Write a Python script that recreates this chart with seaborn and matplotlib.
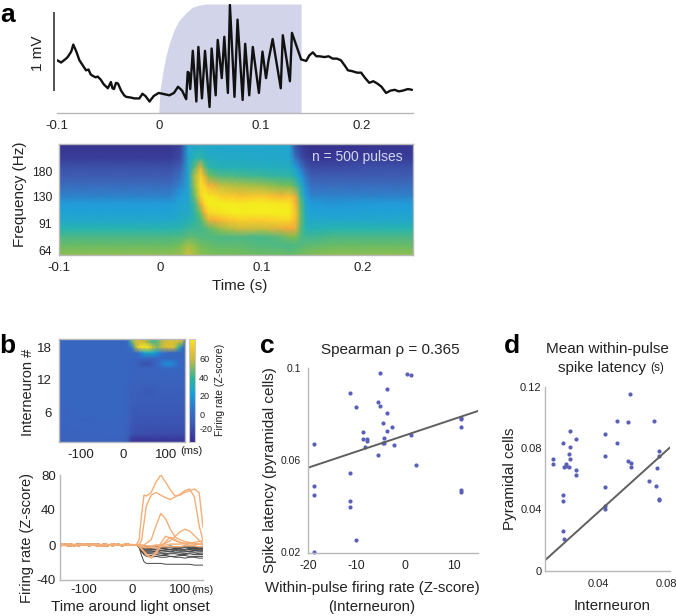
import numpy as np
import pandas as pd
import matplotlib
matplotlib.use('Agg')
import matplotlib.pyplot as plt
from matplotlib.colors import LinearSegmentedColormap
from matplotlib.transforms import ScaledTranslation
import seaborn as sns

# panel a, trace (ms, mV)
trace_t = [-100, -96, -92, -89.5, -86, -84, -81, -78, -75, -73, -71.5, -69, -67, -65, -62, -60, -57, -54, -50, -47, -45.5,
           -44, -42, -40, -37, -34, -32, -27, -24, -19, -16, -13, -9, -5, 0, 10.5, 15, 19, 23, 27, 28.5, 29.5, 31,
           33.5, 37, 39, 42.5, 45.5, 50, 52, 56, 58, 62, 64.5, 68, 70, 74.5, 77.5, 82.5, 85, 89, 92.5, 98.5, 102, 105.5,
           108, 112, 120, 122, 129, 131, 140, 145, 148, 151.5, 155, 158, 163, 167, 171, 175, 179, 183, 186, 190, 195, 199,
           203, 207, 211, 215, 219, 223.5, 228, 232, 236, 240, 245, 249]
trace_mv = [.51, .48, .52, .55, .62, .71, .62, .51, .45, .41, .38, .39, .33, .31, .29, .30, .26, .20, .15, .23, .15,
            .14, .22, .21, .12, .06, .04, .03, .02, .02, .08, .05, -.02, .05, .09, .06, .09, .17, .12, .01, .36, .35, .14,
            .63, -.02, .68, .02, .63, -.09, .66, .06, .77, .28, .81, .09, 1.22, .04, 1.03, 0, .72, .06, .68, .09, .62, .28,
            .51, .78, .15, .83, .24, .86, .52, .50, .57, .61, .56, .56, .55, .56, .53, .53, .51, .44, .38, .37, .35, .35,
            .28, .22, .24, .21, .17, .09, .12, .13, .11, .12, .14, .13]
light_t = [0, 1.3, 4, 7, 10.5, 15, 20, 27, 33, 40, 46.5, 140, 140]
light_level = [0, .21, .37, .52, .64, .76, .85, .92, .97, .99, 1, 1, 0]

# panel a, spectrogram
spec_t = [-100, -60, -20, 10, 20, 28, 34, 40, 44, 48, 54, 60, 70, 80, 100, 120, 128, 134, 139, 144, 150, 170, 210, 250]
spec_f = [60, 68, 76, 85, 95, 105, 118, 130, 150, 170, 190, 215, 258]
base = [.58, .52, .47, .40, .33, .30, .27, .22, .17, .13, .10, .04, .01]
spec_z = [base, base, base, base,
          [.60, .55, .48, .41, .36, .33, .31, .28, .22, .18, .14, .08, .05],
          [.66, .62, .50, .44, .38, .33, .33, .32, .32, .32, .32, .32, .31],
          [.62, .58, .50, .45, .42, .42, .45, .52, .60, .62, .50, .40, .32],
          [.58, .54, .48, .46, .48, .55, .72, .90, .95, .90, .72, .42, .32],
          [.57, .53, .48, .47, .58, .78, .93, 1.0, .90, .72, .50, .38, .32],
          [.56, .52, .48, .50, .72, .93, 1.0, .98, .80, .55, .42, .36, .32],
          [.55, .51, .47, .55, .78, .95, 1.0, .95, .72, .50, .40, .35, .32],
          [.55, .50, .47, .60, .82, .97, 1.0, .90, .65, .48, .38, .34, .32],
          [.55, .50, .47, .64, .87, 1.0, 1.0, .88, .63, .47, .38, .34, .32],
          [.54, .50, .47, .68, .90, 1.0, .98, .85, .62, .46, .38, .34, .32],
          [.53, .48, .46, .66, .88, 1.0, 1.0, .88, .60, .44, .37, .33, .32],
          [.53, .47, .50, .72, .92, 1.0, .97, .82, .55, .42, .36, .33, .32],
          [.52, .46, .55, .75, .92, 1.0, .97, .85, .55, .42, .36, .32, .31],
          [.53, .47, .55, .72, .82, .85, .80, .72, .48, .36, .28, .18, .08],
          [.54, .48, .47, .50, .52, .52, .50, .45, .36, .28, .20, .10, .03],
          [.56, .50, .45, .40, .36, .34, .31, .28, .24, .18, .12, .05, .01],
          [.57, .50, .45, .38, .33, .30, .27, .22, .17, .13, .08, .02, .0],
          [.58, .52, .47, .40, .33, .29, .26, .22, .17, .13, .08, .03, .0],
          base, base]

# panel b, heat map (rows are interneuron 1..19)
heat_t = [-150, -100, -50, 0, 10, 20, 30, 40, 50, 60, 70, 80, 90, 100, 110, 120, 130, 140, 145]
heat_z = [
    [-5, -5, -5, -5, -8, -25, -26, -26, -26, -26, -26, -26, -26, -26, -26, -26, -26, -26, -26],
    [-5, -5, -4, -4, -6, -12, -15, -16, -16, -16, -16, -16, -16, -16, -16, -16, -16, -16, -16],
    [-5, -4, -4, -4, -6, -11, -13, -14, -14, -14, -14, -14, -14, -14, -14, -14, -14, -14, -14],
    [-4, -4, -4, -4, -5, -10, -12, -12, -12, -12, -12, -12, -12, -12, -12, -12, -12, -12, -12],
    [-4, -4, -3, -3, -5, -9, -11, -11, -11, -11, -11, -11, -11, -11, -11, -11, -11, -11, -11],
    [-4, -3, -3, -3, -4, -8, -10, -10, -10, -10, -10, -10, -10, -10, -10, -10, -10, -10, -10],
    [-4, -3, -3, -3, -4, -8, -9, -9, -9, -9, -9, -9, -9, -9, -9, -9, -9, -9, -9],
    [-3, -3, -3, -3, -4, -7, -8, -8, -8, -8, -8, -8, -8, -8, -8, -8, -8, -8, -8],
    [-3, -3, -3, -3, -4, -7, -8, -8, -8, -8, -8, -8, -8, -8, -8, -8, -8, -8, -8],
    [-3, -3, -3, -3, -4, -6, -7, -7, -9, -10, -9, -7, -7, -7, -7, -7, -7, -7, -7],
    [-3, -3, -3, -3, -4, -6, -6, -6, -6, -6, -6, -6, -6, -6, -6, -6, -6, -6, -6],
    [-3, -3, -3, -3, -3, -5, -5, -5, -5, -5, -5, -5, -5, -5, -5, -5, -5, -5, -5],
    [-3, -3, -3, -3, -3, -4, -5, -5, -5, -5, -5, -5, -5, -4, -4, -4, -4, -4, -4],
    [-3, -3, -3, -3, -3, -4, -4, -4, -4, -4, -4, -4, -3, -3, -3, -3, -3, -3, -3],
    [-3, -3, -3, -3, -4, -5, -5, -10, -14, -13, -8, -3, 8, 14, 15, 10, 0, -4, -4],
    [-3, -3, -3, -3, -3, -3, -3, -2, -2, -3, -3, -3, -3, -3, -3, -3, -3, -3, -3],
    [-3, -3, -3, -3, -3, -3, -3, 8, 22, 30, 25, 18, 5, 0, -3, -3, -3, -3, -3],
    [-3, -3, -3, -3, -2, 8, 55, 78, 80, 78, 60, 50, 58, 62, 65, 62, 40, 5, -3],
    [-3, -3, -3, -3, 0, 45, 62, 62, 60, 50, 42, 45, 55, 62, 64, 64, 62, 55, 5],
]
cbar_ticks = [-15, 0, 20, 40, 60]
cbar_labels = ['-20', '0', '20', '40', '60']

# panel b, firing rate traces
pre_t = [-150, -140, -130, -120, -110, -100, -90, -80, -70, -60, -50, -40, -30, -20, -10, 0, 5]
pre_a = [1, -.5, 1.5, 0, -1, 1, -.5, 1, .5, -1.5, 0, 1, -.5, .5, 0, .5, 0]
pre_b = [-1.5, 1, 0, -1, .5, 1.5, -1, 0, -1.5, 1, .5, -1, 1, 0, 1.5, -.5, 0]
pre_c = [2, 0, -1.5, .5, 1, -.5, 1.5, 0, 1, -.5, -1, 1.5, 0, -1, .5, 0, 0]
post_t = [10, 15, 20, 25, 30, 40, 50, 60, 70, 80, 90, 100, 110, 120, 130, 140, 148]
orange_cells = [
    [1, 6, 35, 57, 56, 60, 72, 80, 72, 63, 56, 57, 60, 62, 64, 60, 20],
    [0, 1, 5, 25, 45, 57, 60, 57, 54, 52, 55, 58, 62, 64, 55, 22, 5],
    [0, 0, 0, 0, 2, 6, 22, 36, 30, 18, 9, 6, 4, 3, 2, 1, 0],
    [0, -1, -2, -3, -3, -2, -1, 0, 2, 5, 10, 15, 18, 16, 11, 5, 2],
    [0, -2, -5, -8, -12, -14, -8, 2, 10, 8, 5, 3, 2, 2, 1, 1, 1],
    [0, -1, -4, -7, -10, -15, -10, -2, 4, 9, 6, 3, 1, 0, 0, 1, 1],
    [0, 0, -1, -1, -1, -1, 0, 0, 0, 1, 1, 1, 2, 2, 3, 4, 5],
    [0, 0, -1, -2, -3, -3, -3, -2, -2, -2, -2, -2, -1, -1, -1, -2, -2],
]
black_cells = [
    [0, -3, -12, -19, -21, -21, -21, -21, -22, -22, -22, -22, -22, -22, -23, -23, -23],
    [0, -3, -8, -11, -13, -14, -13, -14, -14, -13, -14, -14, -15, -14, -14, -15, -15],
    [0, -2, -7, -10, -12, -12, -13, -12, -12, -13, -13, -12, -12, -13, -13, -13, -13],
    [0, -2, -6, -9, -10, -10, -11, -10, -11, -10, -10, -11, -11, -10, -11, -11, -11],
    [0, -2, -5, -8, -9, -9, -9, -9, -10, -9, -9, -9, -10, -9, -9, -10, -10],
    [0, -2, -5, -7, -8, -8, -7, -8, -8, -7, -8, -8, -8, -7, -8, -8, -8],
    [0, -1, -4, -6, -7, -7, -7, -6, -7, -7, -6, -7, -7, -7, -6, -7, -7],
    [0, -1, -3, -5, -6, -6, -5, -6, -6, -5, -5, -6, -6, -5, -6, -6, -6],
    [0, -1, -3, -4, -5, -5, -5, -4, -5, -5, -4, -5, -5, -4, -5, -5, -5],
    [0, -1, -2, -3, -4, -4, -3, -4, -4, -3, -4, -4, -3, -4, -4, -4, -4],
    [0, -1, -2, -2, -3, -3, -2, -3, -3, -2, -3, -3, -2, -3, -3, -3, -3],
    [0, 0, -1, -1, -2, -2, -1, -2, -2, -1, -2, -2, -1, -2, -2, -2, -2],
]

# panel c
c_rate = [-5.1, .3, 1.3, -11.4, -3.7, -10.2, -5.6, -5.1, -3.7, -4.6, -2.7, -3.7, -8.6, -8.6, -7.8, -7.8, -4.4, -4.4, -4.6,
          -2.2, -8.3, -18.7, -5.6, 2.2, 1.3, 11.4, 11.4, 11.4, 11.4, 11.4, -11.4, -18.7, -18.7, -11.4, -11.4, -10.2, -18.7]
c_latency = [.0978, .0972, .0968, .089, .0909, .0832, .0854, .0833, .0805, .0759, .0745, .0724, .0722, .0693, .0693, .0683,
             .0696, .0675, .0674, .0665, .0655, .0671, .062, .058, .071, .0781, .0776, .0745, .0468, .046, .0545, .0488,
             .0449, .0421, .0394, .0251, .02]
c_fit_x = [-20, 15]
c_fit_y = [.0566, .0813]

# panel d
d_inter = [.011, .011, .0171, .021, .0245, .021, .0208, .0212, .0188, .0173, .0188, .0208, .0245, .0245, .0171, .0171, .0171,
           .0173, .0416, .0416, .0416, .0416, .0416, .0486, .0486, .0551, .0563, .0551, .0571, .0571, .0706, .0676, .0724,
           .0718, .0733, .0733, .0733, .0733]
d_pyr = [.0726, .0696, .0835, .0911, .0857, .0807, .0761, .0726, .0693, .0676, .0683, .0678, .0659, .0624, .0493, .0452,
         .0257, .0204, .0891, .075, .0548, .0424, .04, .0978, .0835, .097, .1152, .0715, .07, .0678, .0976, .0585, .0667,
         .0554, .0783, .0748, .047, .0463]
d_fit_x = [.0061, .08]
d_fit_y = [.0065, .0804]

W, H = 676, 616
sns.set_style('white')
plt.rcParams['font.family'] = ['Liberation Sans', 'DejaVu Sans']
plt.rcParams['text.color'] = '#222222'
plt.rcParams['axes.labelcolor'] = '#222222'
plt.rcParams['xtick.color'] = '#222222'
plt.rcParams['ytick.color'] = '#222222'

fig = plt.figure(figsize=(W / 100, H / 100), dpi=100)


def box(x0, y0, x1, y1):
    # axes from pixel corners of the picture
    return fig.add_axes([x0 / W, 1 - y1 / H, (x1 - x0) / W, (y1 - y0) / H])


def label(x, y, s, size=11, **kw):
    fig.text(x / W, 1 - y / H, s, fontsize=size, ha=kw.pop('ha', 'center'), va=kw.pop('va', 'center'), **kw)


def light_axes(ax, sides=('left', 'bottom')):
    for side, spine in ax.spines.items():
        spine.set_visible(side in sides)
        spine.set_color('#b8b8b8')
        spine.set_linewidth(1)


spec_cmap = LinearSegmentedColormap.from_list('spec', [
    (0, '#36308e'), (.15, '#3f63b8'), (.28, '#1f9fdc'), (.4, '#27b3b0'), (.55, '#79bd55'), (.66, '#c8bf3c'),
    (.76, '#f7a63a'), (.88, '#fbc92e'), (1, '#f4ee1e')])
heat_cmap = LinearSegmentedColormap.from_list('heat', [
    (0, '#3a3096'), (.22, '#3a62bd'), (.32, '#2f74cf'), (.48, '#10a5dc'), (.62, '#2cb59a'), (.8, '#c9b93e'),
    (.92, '#f3c92c'), (1, '#f6e81e')])

# a, trace
ax = box(57, 4, 413, 113)
ax.fill_between(light_t, [lv * 1.397 - .167 for lv in light_level], -.167, color='#d2d4ea', lw=0)
sns.lineplot(x=trace_t, y=trace_mv, color='#111111', lw=1.7, sort=False, ax=ax)
ax.set_xlim(-100, 250)
ax.set_ylim(-.167, 1.23)
ax.set_yticks([])
ax.set_xticks([-100, 0, 100, 200], ['-0.1', '0', '0.1', '0.2'], fontsize=9.5)
ax.tick_params(axis='x', direction='in', length=2, width=.8, color='#b8b8b8', pad=5)
light_axes(ax, ['bottom'])
bar = box(53, 12, 54.6, 91)
bar.set_facecolor('#555555')
bar.set_xticks([])
bar.set_yticks([])
sns.despine(ax=bar, left=True, bottom=True)
label(38, 53, '1 mV', 11, rotation=90)
label(8, 15, 'a', 19, fontweight='bold', color='black')

# a, spectrogram
ax = box(59, 144, 413, 255)
ax.pcolormesh(spec_t, spec_f, np.array(spec_z).T, cmap=spec_cmap, vmin=0, vmax=1, shading='gouraud')
ax.set_yscale('log', base=2)
ax.set_ylim(60, 258)
ax.set_xlim(-100, 250)
ax.set_yticks([64, 91, 130, 180], ['64', '91', '130', '180'], fontsize=8.7)
ax.minorticks_off()
ax.set_xticks([-100, 0, 100, 200], ['-0.1', '0', '0.1', '0.2'], fontsize=9.5)
ax.tick_params(length=0, pad=5)
light_axes(ax, ['left', 'right', 'top', 'bottom'])
ax.text(.715, .88, 'n = 500 pulses', transform=ax.transAxes, color='#d4d8ec', fontsize=10, va='center')
label(20, 194, 'Frequency (Hz)', 11, rotation=90)
label(240, 286, 'Time (s)', 11)

# b, heat map
ax = box(59, 339, 185, 442)
rows = [.5] + list(range(1, 20)) + [19.5]
heat_pad = [heat_z[0]] + heat_z + [heat_z[-1]]
mesh = ax.pcolormesh(heat_t, rows, heat_pad, cmap=heat_cmap, vmin=-30, vmax=81, shading='gouraud')
ax.set_xlim(-150, 145)
ax.set_ylim(.5, 19.5)
ax.set_xticks([-100, 0, 100], ['-100', '0', '100'], fontsize=9.5)
ax.set_yticks([6, 12, 18], ['6', '12', '18'], fontsize=9.5)
ax.tick_params(length=0, pad=5)
light_axes(ax, ['left', 'right', 'top', 'bottom'])
cax = box(189, 339, 195, 442)
cb = fig.colorbar(mesh, cax=cax)
cb.set_ticks(cbar_ticks, labels=cbar_labels, fontsize=6.5)
cb.ax.tick_params(length=0, pad=3)
cb.outline.set_edgecolor('#c8c8c8')
label(220, 390, 'Firing rate (Z-score)', 7.5, rotation=90)
label(28, 392, 'Interneuron #', 10.5, rotation=90)
label(191, 451, '(ms)', 8)
label(7, 346, 'b', 19, fontweight='bold', color='black')

# b, traces
rows_long = []
pre_lists = [pre_a, pre_b, pre_c]
for group, cells in (('black', black_cells), ('orange', orange_cells)):
    for i, vals in enumerate(cells):
        pre = pre_lists[i % 3]
        rows_long.append(pd.DataFrame({'t': pre_t + post_t, 'z': pre + vals, 'cell': i, 'group': group}))
traces = pd.concat(rows_long)
ax = box(60, 475, 203, 580)
sns.lineplot(data=traces[traces.group == 'black'], x='t', y='z', units='cell', estimator=None, color='#444444', lw=.7, ax=ax)
sns.lineplot(data=traces[traces.group == 'orange'], x='t', y='z', units='cell', estimator=None, color='#f4ae78', lw=1, ax=ax)
ax.set_xlim(-150, 148)
ax.set_ylim(-40, 80)
ax.set_xticks([-100, 0, 100], ['-100', '0', '100'], fontsize=9.5)
ax.set_yticks([-40, 0, 40, 80], ['-40', '0', '40', '80'], fontsize=9.5)
ax.set_xlabel('')
ax.set_ylabel('')
ax.tick_params(length=0, pad=3)
light_axes(ax)
label(202, 590, '(ms)', 8)
label(27, 538, 'Firing rate (Z-score)', 10.5, rotation=90)
label(130, 607, 'Time around light onset', 11)

# c
ax = box(308, 368, 478, 553)
sns.scatterplot(x=c_rate, y=c_latency, color='#5a5fb8', s=9, linewidth=0, ax=ax, clip_on=False)
sns.lineplot(x=c_fit_x, y=c_fit_y, color='#5f5f5f', lw=1.4, ax=ax)
ax.set_xlim(-20, 15)
ax.set_ylim(.0195, .1)
ax.set_xticks([-20, -10, 0, 10], ['-20', '-10', '0', '10'], fontsize=8.7)
ax.set_yticks([.02, .06, .1], ['0.02', '0.06', '0.1'], fontsize=7.5)
ax.tick_params(length=0, pad=5)
light_axes(ax)
label(390, 350, 'Spearman ρ = 0.365', 11)
label(270, 470, 'Spike latency (pyramidal cells)', 11, rotation=90)
label(372, 588, 'Within-pulse firing rate (Z-score)', 10.8)
label(372, 607, '(Interneuron)', 10.8)
label(267, 346, 'c', 19, fontweight='bold', color='black')

# d
ax = box(544.5, 386.7, 670, 570.7)
sns.scatterplot(x=d_inter, y=d_pyr, color='#5a5fb8', s=9, linewidth=0, ax=ax)
sns.lineplot(x=d_fit_x, y=d_fit_y, color='#5f5f5f', lw=1.4, ax=ax)
ax.set_xlim(.0061, .08)
ax.set_ylim(0, .12)
ax.set_xticks([.04, .08], ['0.04', '0.08'], fontsize=8)
ax.set_yticks([0, .04, .08, .12], ['0', '0.04', '0.08', '0.12'], fontsize=8)
ax.tick_params(axis='x', length=0, pad=6)
ax.tick_params(axis='y', length=0, pad=2)
for tick_text in ax.get_xticklabels():
    tick_text.set_transform(tick_text.get_transform() + ScaledTranslation(-.04, 0, fig.dpi_scale_trans))
light_axes(ax)
label(607, 349, 'Mean within-pulse', 11)
label(602, 368, 'spike latency', 11)
label(657, 368, '(s)', 8.5)
label(510, 479, 'Pyramidal cells', 11, rotation=90)
label(612, 606, 'Interneuron', 10.8)
label(512, 346, 'd', 19, fontweight='bold', color='black')

fig.savefig('out.png', dpi=100)
